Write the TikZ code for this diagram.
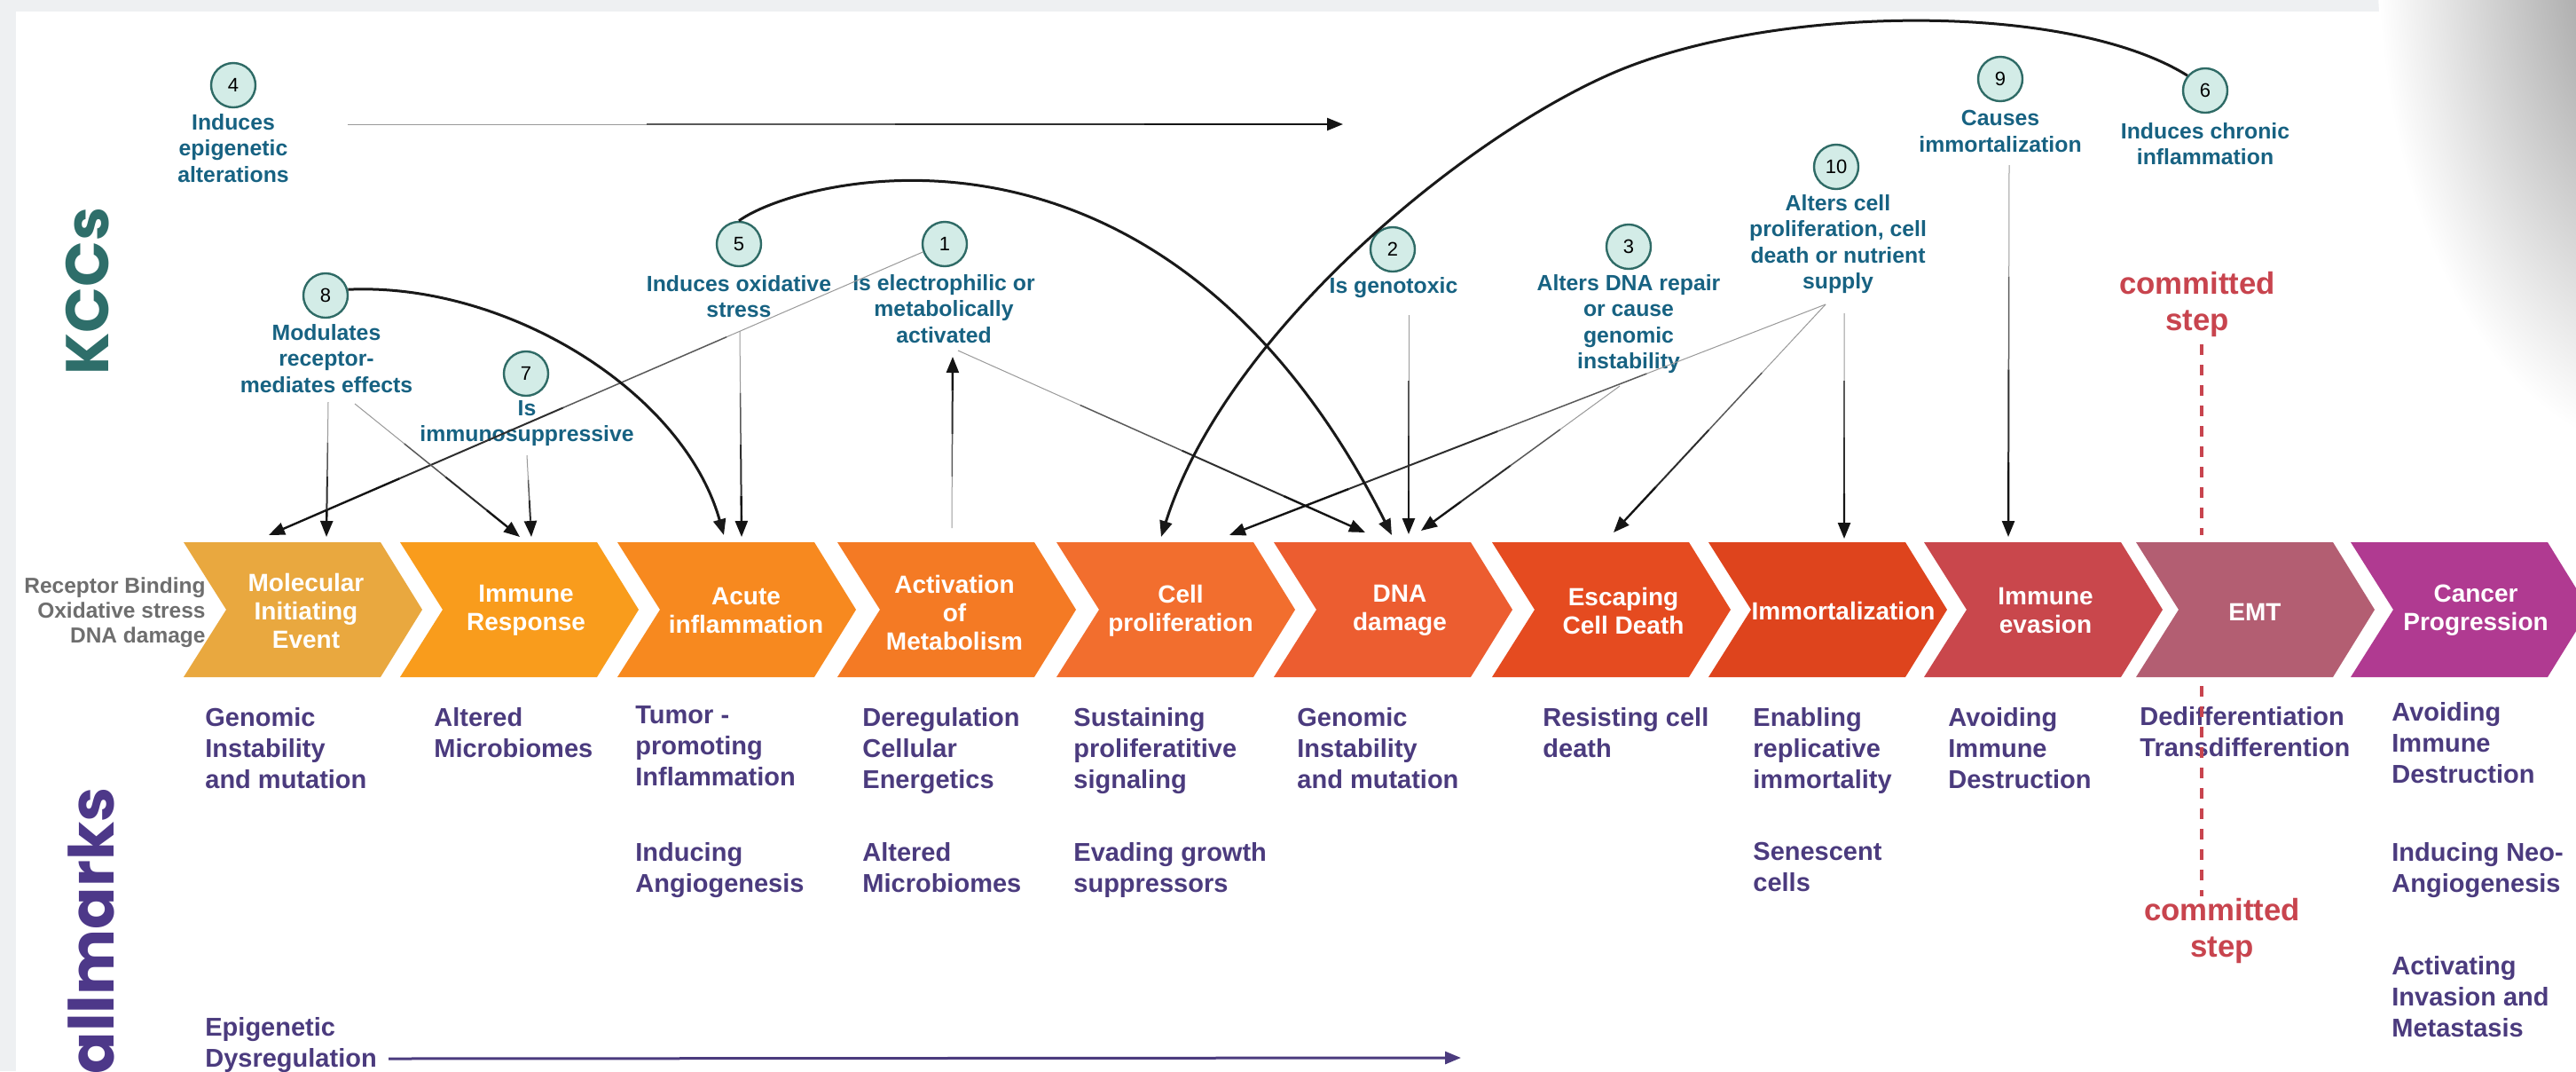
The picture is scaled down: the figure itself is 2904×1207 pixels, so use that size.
\documentclass[tikz,border=0pt]{standalone}
\usepackage{fontspec}
\setmainfont{Liberation Sans}
\newfontfamily\titlefont{Poppins}
\usetikzlibrary{arrows.meta,calc}

% palette
\definecolor{bggray}{HTML}{EEF0F2}
\definecolor{kccblue}{HTML}{176282}
\definecolor{kccedge}{HTML}{2F6B66}
\definecolor{kccfill}{HTML}{D3ECE7}
\definecolor{kcctitle}{HTML}{2E6E6A}
\definecolor{hallpurple}{HTML}{4B3B7E}
\definecolor{halltitle}{HTML}{4D3889}
\definecolor{stepred}{HTML}{C8444E}
\definecolor{sidegray}{HTML}{6E6E6E}
\definecolor{cA}{HTML}{E9A83F}
\definecolor{cB}{HTML}{F99C1C}
\definecolor{cC}{HTML}{F7891F}
\definecolor{cD}{HTML}{F47A24}
\definecolor{cE}{HTML}{F26E2E}
\definecolor{cF}{HTML}{EC5D30}
\definecolor{cG}{HTML}{E54B20}
\definecolor{cH}{HTML}{DE441D}
\definecolor{cI}{HTML}{C9474C}
\definecolor{cJ}{HTML}{B35E72}
\definecolor{cK}{HTML}{B03A91}

% straight connector that thickens and darkens towards its arrow tip
\newcommand\kcclink[2]{%
  \draw[line width=0.5pt, black!40] (#1) -- ($(#1)!0.3!(#2)$);
  \draw[line width=0.75pt, black!65] ($(#1)!0.3!(#2)$) -- ($(#1)!0.55!(#2)$);
  \draw[line width=1pt, black!82] ($(#1)!0.55!(#2)$) -- ($(#1)!0.8!(#2)$);
  \draw[line width=1.2pt, black!92, -{Triangle[length=9pt,width=7pt]}] ($(#1)!0.8!(#2)$) -- (#2);
}
% one step of the progression band
\newcommand\chevronshape[2]{%
  \fill[#2] (#1,611) -- ++(222,0) -- ++(47,76) -- ++(-47,76) -- ++(-222,0) -- ++(48,-76) -- cycle;
}

\begin{document}
\begin{tikzpicture}[x=0.5pt, y=-0.5pt,
  chevtext/.style={text=white, font=\fontsize{14}{16}\selectfont\bfseries, align=center, inner sep=0pt},
  kcclabel/.style={text=kccblue, font=\fontsize{12.4}{14.8}\selectfont\bfseries, align=center, inner sep=0pt},
  kccnum/.style={circle, draw=kccedge, fill=kccfill, line width=1.2pt, minimum size=25pt, inner sep=0pt, font=\fontsize{11}{13}\selectfont},
  hallmark/.style={text=hallpurple, font=\fontsize{14.5}{17.6}\selectfont\bfseries, align=left, inner sep=0pt, anchor=north west},
  arcarrow/.style={line width=1.5pt, black!90, -{Triangle[length=9pt,width=7pt]}},
  committed/.style={text=stepred, font=\fontsize{17.4}{20.5}\selectfont\bfseries, align=center, inner sep=0pt},
  stepline/.style={stepred, line width=2pt, dash pattern=on 6pt off 5.5pt},
]
\useasboundingbox (0,0) rectangle (2904,1207);

% page background, panel and the curled corner shadow
\fill[bggray] (0,0) rectangle (2904,1207);
\fill[white] (18,13) rectangle (2904,1207);
\fill[bggray] (0,0) rectangle (2720,13);
\begin{scope}
  \clip (2600,0) rectangle (2904,560);
  \shade[inner color=black!45, outer color=white] (3000,-50) ellipse (320 and 560);
\end{scope}

% side titles
\node[rotate=90, text=kcctitle, font=\fontsize{34}{36}\titlefont\bfseries, inner sep=0pt] (kccs) at (99,328) {KCCs};
\node[rotate=90, anchor=base east, text=halltitle, font=\fontsize{35}{38}\titlefont\bfseries, inner sep=0pt] (hallm) at (128,887) {Hallmarks};

% progression band
\chevronshape{207}{cA}
\chevronshape{451}{cB}
\chevronshape{696}{cC}
\chevronshape{944}{cD}
\chevronshape{1191}{cE}
\chevronshape{1436}{cF}
\chevronshape{1682}{cG}
\chevronshape{1926}{cH}
\chevronshape{2169}{cI}
\chevronshape{2408}{cJ}
\chevronshape{2650}{cK}

\node[chevtext] (s1) at (345,688) {Molecular\\Initiating\\Event};
\node[chevtext] (s2) at (593,688) {Immune\\Response};
\node[chevtext] (s3) at (841,688) {Acute\\inflammation};
\node[chevtext] (s4) at (1076,690) {Activation\\of\\Metabolism};
\node[chevtext] (s5) at (1331,688) {Cell\\proliferation};
\node[chevtext] (s6) at (1578,688) {DNA\\damage};
\node[chevtext] (s7) at (1830,688) {Escaping\\Cell Death};
\node[chevtext] (s8) at (2078,688) {Immortalization};
\node[chevtext] (s9) at (2306,688) {Immune\\evasion};
\node[chevtext] (s10) at (2542,690) {EMT};
\node[chevtext] (s11) at (2791,688) {Cancer\\Progression};

\node[text=sidegray, font=\fontsize{12.25}{14}\selectfont\bfseries, align=right, inner sep=0pt, anchor=east] (entry) at (232,690) {Receptor Binding\\Oxidative stress\\DNA damage};

% key characteristics
\node[kccnum] (n4) at (263,96) {4};
\node[kcclabel] (k4) at (263,167) {Induces\\epigenetic\\alterations};
\node[kccnum] (n8) at (367,333) {8};
\node[kcclabel] (k8) at (368,404) {Modulates\\receptor-\\mediates effects};
\node[kccnum] (n7) at (593,421) {7};
\node[kcclabel] (k7) at (594,477) {Is\\immunosuppressive};
\node[kccnum] (n5) at (833,275) {5};
\node[kcclabel] (k5) at (833,334) {Induces oxidative\\stress};
\node[kccnum] (n1) at (1065,275) {1};
\node[kcclabel] (k1) at (1064,348) {Is electrophilic or\\metabolically\\activated};
\node[kccnum] (n2) at (1570,281) {2};
\node[kcclabel] (k2) at (1571,324) {Is genotoxic};
\node[kccnum] (n3) at (1836,278) {3};
\node[kcclabel] (k3) at (1836,365) {Alters DNA repair\\or cause\\genomic\\instability};
\node[kccnum] (n10) at (2070,188) {10};
\node[kcclabel] (k10) at (2072,275) {Alters cell\\proliferation, cell\\death or nutrient\\supply};
\node[kccnum] (n9) at (2255,89) {9};
\node[kcclabel] (k9) at (2255,148) {Causes\\immortalization};
\node[kccnum] (n6) at (2486,102) {6};
\node[kcclabel] (k6) at (2486,162) {Induces chronic\\inflammation};

% hallmarks
\node[hallmark] (h1) at (231,797) {Genomic\\Instability\\and mutation};
\node[hallmark] (h2) at (489,797) {Altered\\Microbiomes};
\node[hallmark] (h3) at (716,795) {Tumor -\\promoting\\Inflammation};
\node[hallmark] (h4) at (716,949) {Inducing\\Angiogenesis};
\node[hallmark] (h5) at (972,797) {Deregulation\\Cellular\\Energetics};
\node[hallmark] (h6) at (972,949) {Altered\\Microbiomes};
\node[hallmark] (h7) at (231,1146) {Epigenetic\\Dysregulation};
\node[hallmark] (h8) at (1210,797) {Sustaining\\proliferatitive\\signaling};
\node[hallmark] (h9) at (1210,949) {Evading growth\\suppressors};
\node[hallmark] (h10) at (1462,797) {Genomic\\Instability\\and mutation};
\node[hallmark] (h11) at (1739,797) {Resisting cell\\death};
\node[hallmark] (h12) at (1976,797) {Enabling\\replicative\\immortality};
\node[hallmark] (h13) at (1976,949) {Senescent\\cells};
\node[hallmark] (h14) at (2196,797) {Avoiding\\Immune\\Destruction};
\node[hallmark] (h15) at (2412,796) {Dedifferentiation\\Transdifferention};
\node[hallmark] (h16) at (2696,791) {Avoiding\\Immune\\Destruction};
\node[hallmark] (h17) at (2696,949) {Inducing Neo-\\Angiogenesis};
\node[hallmark] (h18) at (2696,1077) {Activating\\Invasion and\\Metastasis};

% committed step markers
\node[committed] (cs1) at (2477,343) {committed\\step};
\node[committed] (cs2) at (2505,1049) {committed\\step};
\coordinate (cs1a) at (2482,388);
\coordinate (cs1b) at (2482,603);
\coordinate (cs2a) at (2482,773);
\coordinate (cs2b) at (2482,1010);
\draw[stepline] (cs1a) -- (cs1b);
\draw[stepline] (cs2a) -- (cs2b);

% connector end points
\coordinate (e4a) at (392,140);
\coordinate (e4b) at (1514,140);
\coordinate (mie1) at (303,603);
\coordinate (mie2) at (368,605);
\coordinate (ir1) at (586,605);
\coordinate (ir2) at (599,605);
\coordinate (ai1) at (816,603);
\coordinate (ai2) at (836,605);
\coordinate (act1) at (1073,595);
\coordinate (cp1) at (1309,605);
\coordinate (cp2) at (1386,603);
\coordinate (dna1) at (1539,600);
\coordinate (dna2) at (1569,603);
\coordinate (dna3) at (1588,602);
\coordinate (dna4) at (1602,598);
\coordinate (ecd1) at (1819,600);
\coordinate (imm1) at (2079,607);
\coordinate (ie1) at (2264,605);
\coordinate (k8a) at (370,453);
\coordinate (k8b) at (400,455);
\coordinate (k7a) at (594,513);
\coordinate (k5a) at (834,373);
\coordinate (k1top) at (1074,402);
\coordinate (k1b) at (1080,395);
\coordinate (k2a) at (1588,355);
\coordinate (k3a) at (1826,435);
\coordinate (k10a) at (2058,343);
\coordinate (k10b) at (2079,353);
\coordinate (k9a) at (2265,186);
\coordinate (arc6mid) at (1812,85);

% straight connectors
\kcclink{e4a}{e4b}
\kcclink{n1.200}{mie1}
\kcclink{k8a}{mie2}
\kcclink{k8b}{ir1}
\kcclink{k7a}{ir2}
\kcclink{k5a}{ai2}
\kcclink{act1}{k1top}
\kcclink{k1b}{dna1}
\kcclink{k2a}{dna3}
\kcclink{k3a}{dna4}
\kcclink{k10a}{cp2}
\kcclink{k10a}{ecd1}
\kcclink{k10b}{imm1}
\kcclink{k9a}{ie1}

% curved connectors
\draw[arcarrow] (n8.15) .. controls (570,318) and (770,440) .. (ai1);
\draw[arcarrow] (n5.north) .. controls (900,200) and (1310,90) .. (dna2);
\draw[arcarrow] (n6.140) .. controls (2330,0) and (1990,5) .. (arc6mid)
   .. controls (1640,162) and (1380,380) .. (cp1);

% hallmark timeline arrow
\coordinate (hla) at (438,1193);
\coordinate (hlb) at (1647,1192);
\draw[hallpurple, line width=1.5pt, -{Triangle[length=9pt,width=7pt]}] (hla) -- (hlb);
\end{tikzpicture}
\end{document}
